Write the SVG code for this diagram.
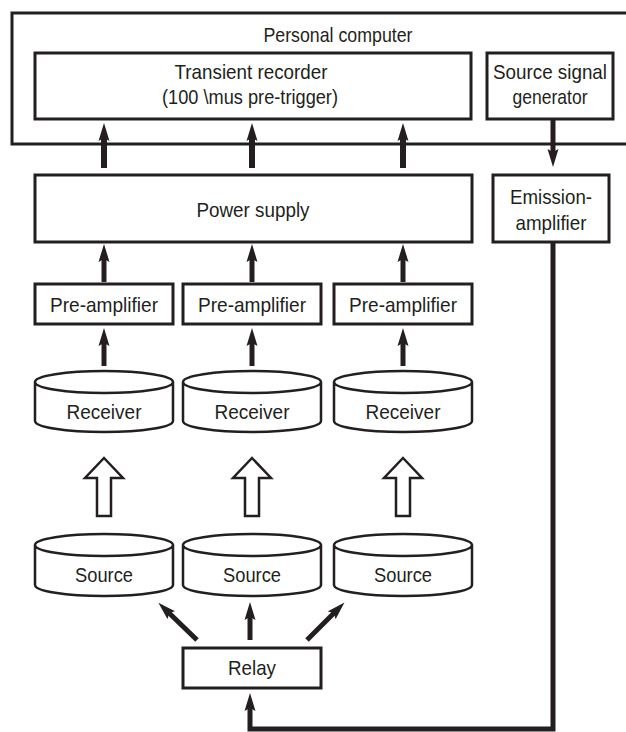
<svg xmlns="http://www.w3.org/2000/svg" width="626" height="732" viewBox="0 0 626 732">
<style>
.box{fill:#fff;stroke:#231f20;stroke-width:3}
.cyl{fill:#fff;stroke:#231f20;stroke-width:2.5}
.t{font-family:"Liberation Sans",Arial,sans-serif;font-size:21px;fill:#231f20;text-anchor:middle}
.a{stroke:#231f20;stroke-width:5;fill:none}
.a6{stroke:#231f20;stroke-width:6;fill:none}
.hol{fill:#fff;stroke:#231f20;stroke-width:2.5;stroke-linejoin:miter}
</style>
<defs>
<marker id="ah" markerUnits="userSpaceOnUse" markerWidth="20" markerHeight="12" viewBox="0 0 20 12" refX="6" refY="6" orient="auto">
<path d="M0,0.5 L18,6 L0,11.5 L3,6 z" fill="#231f20"/>
</marker>
</defs>
<rect width="626" height="732" fill="#fff"/>
<g id="personal-computer">
<rect class="box" x="12" y="13" width="630" height="131"/>
<text class="t" x="338" y="42" textLength="149" lengthAdjust="spacingAndGlyphs">Personal computer</text>
</g>
<g id="transient-recorder">
<rect class="box" x="35" y="53" width="436" height="66"/>
<text class="t" x="251" y="79" textLength="153" lengthAdjust="spacingAndGlyphs">Transient recorder</text>
<text class="t" x="250" y="104" textLength="176" lengthAdjust="spacingAndGlyphs">(100 \mus pre-trigger)</text>
</g>
<g id="source-signal-generator">
<rect class="box" x="487" y="53" width="126" height="66"/>
<text class="t" x="550" y="79" textLength="114" lengthAdjust="spacingAndGlyphs">Source signal</text>
<text class="t" x="550" y="104" textLength="75" lengthAdjust="spacingAndGlyphs">generator</text>
</g>
<g id="power-supply">
<rect class="box" x="35" y="175" width="437" height="67"/>
<text class="t" x="253" y="217" textLength="113" lengthAdjust="spacingAndGlyphs">Power supply</text>
</g>
<g id="emission-amplifier">
<rect class="box" x="493" y="175" width="116" height="67"/>
<text class="t" x="551" y="204" textLength="82" lengthAdjust="spacingAndGlyphs">Emission-</text>
<text class="t" x="551" y="230" textLength="71" lengthAdjust="spacingAndGlyphs">amplifier</text>
</g>
<g id="preamp-1">
<rect class="box" x="35" y="284" width="138" height="40"/>
<text class="t" x="104" y="312" textLength="108" lengthAdjust="spacingAndGlyphs">Pre-amplifier</text>
</g>
<g id="preamp-2">
<rect class="box" x="183" y="284" width="138" height="40"/>
<text class="t" x="252" y="312" textLength="108" lengthAdjust="spacingAndGlyphs">Pre-amplifier</text>
</g>
<g id="preamp-3">
<rect class="box" x="334" y="284" width="138" height="40"/>
<text class="t" x="403" y="312" textLength="108" lengthAdjust="spacingAndGlyphs">Pre-amplifier</text>
</g>
<g id="receiver-1">
<path class="cyl" d="M35,382 V421 A69,11 0 0 0 173,421 V382 A69,11 0 0 0 35,382 A69,11 0 0 0 173,382"/>
<text class="t" x="104" y="419" textLength="75" lengthAdjust="spacingAndGlyphs">Receiver</text>
</g>
<g id="receiver-2">
<path class="cyl" d="M183,382 V421 A69,11 0 0 0 321,421 V382 A69,11 0 0 0 183,382 A69,11 0 0 0 321,382"/>
<text class="t" x="252" y="419" textLength="75" lengthAdjust="spacingAndGlyphs">Receiver</text>
</g>
<g id="receiver-3">
<path class="cyl" d="M334,382 V421 A69,11 0 0 0 472,421 V382 A69,11 0 0 0 334,382 A69,11 0 0 0 472,382"/>
<text class="t" x="403" y="419" textLength="75" lengthAdjust="spacingAndGlyphs">Receiver</text>
</g>
<g id="source-1">
<path class="cyl" d="M35,545 V585 A69,11 0 0 0 173,585 V545 A69,11 0 0 0 35,545 A69,11 0 0 0 173,545"/>
<text class="t" x="104" y="582" textLength="58" lengthAdjust="spacingAndGlyphs">Source</text>
</g>
<g id="source-2">
<path class="cyl" d="M183,545 V585 A69,11 0 0 0 321,585 V545 A69,11 0 0 0 183,545 A69,11 0 0 0 321,545"/>
<text class="t" x="252" y="582" textLength="58" lengthAdjust="spacingAndGlyphs">Source</text>
</g>
<g id="source-3">
<path class="cyl" d="M334,545 V585 A69,11 0 0 0 472,585 V545 A69,11 0 0 0 334,545 A69,11 0 0 0 472,545"/>
<text class="t" x="403" y="582" textLength="58" lengthAdjust="spacingAndGlyphs">Source</text>
</g>
<g id="relay">
<rect class="box" x="183" y="648" width="138" height="40"/>
<text class="t" x="252" y="675" textLength="48" lengthAdjust="spacingAndGlyphs">Relay</text>
</g>
<g id="connectors">
<line class="a6" x1="104" y1="168" x2="104" y2="135" marker-end="url(#ah)"/>
<line class="a6" x1="252" y1="168" x2="252" y2="135" marker-end="url(#ah)"/>
<line class="a6" x1="403" y1="168" x2="403" y2="135" marker-end="url(#ah)"/>
<line class="a" x1="553" y1="119" x2="553" y2="155" marker-end="url(#ah)"/>
<line class="a" x1="104" y1="282" x2="104" y2="256" marker-end="url(#ah)"/>
<line class="a" x1="252" y1="282" x2="252" y2="256" marker-end="url(#ah)"/>
<line class="a" x1="403" y1="282" x2="403" y2="256" marker-end="url(#ah)"/>
<line class="a" x1="104" y1="366" x2="104" y2="340" marker-end="url(#ah)"/>
<line class="a" x1="252" y1="366" x2="252" y2="340" marker-end="url(#ah)"/>
<line class="a" x1="403" y1="366" x2="403" y2="340" marker-end="url(#ah)"/>
<path class="hol" d="M104,458 L123,478 L111,478 L111,516 L97,516 L97,478 L85,478 Z"/>
<path class="hol" d="M252,458 L271,478 L259,478 L259,516 L245,516 L245,478 L233,478 Z"/>
<path class="hol" d="M403,458 L422,478 L410,478 L410,516 L396,516 L396,478 L384,478 Z"/>
<line class="a" x1="197" y1="640" x2="167" y2="611" marker-end="url(#ah)"/>
<line class="a" x1="250" y1="640" x2="250" y2="614" marker-end="url(#ah)"/>
<line class="a" x1="307" y1="640" x2="336" y2="611" marker-end="url(#ah)"/>
<path class="a" d="M553,242 V729 H250 V705" marker-end="url(#ah)"/>
</g>
</svg>
